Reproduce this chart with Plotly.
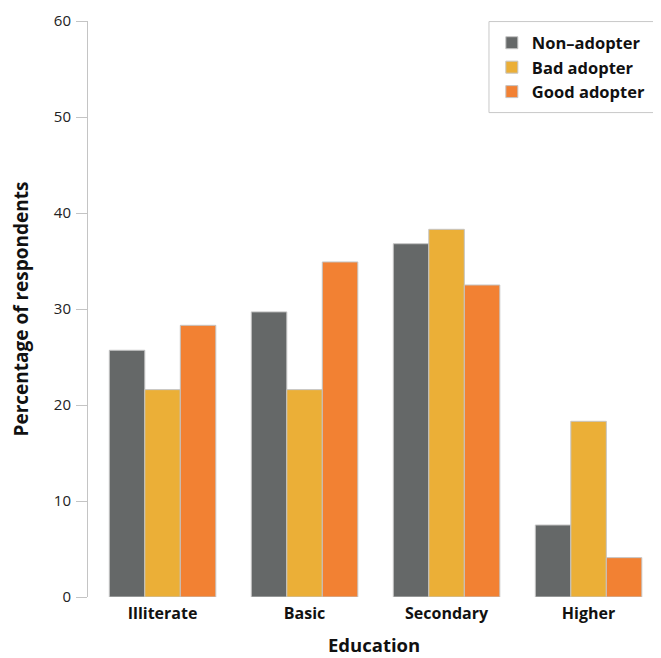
import plotly.graph_objects as go

categories = ["Illiterate", "Basic", "Secondary", "Higher"]
series_names = ["Non–adopter", "Bad adopter", "Good adopter"]
non_adopter = [25.7, 29.7, 36.8, 7.5]
bad_adopter = [21.6, 21.6, 38.3, 18.3]
good_adopter = [28.3, 34.9, 32.5, 4.1]
colors = ["#656868", "#EBAF37", "#F28133"]
y_ticks = [0, 10, 20, 30, 40, 50, 60]
x_title = "Education"
y_title = "Percentage of respondents"

FONT = "Open Sans"

fig = go.Figure()
for name, vals, col in zip(series_names, [non_adopter, bad_adopter, good_adopter], colors):
    fig.add_trace(go.Bar(
        x=categories, y=vals, name=name,
        marker=dict(color=col, line=dict(color="#c4c4c4", width=1)),
    ))

# legend frame (extends past the right edge, as in the reference)
fig.add_shape(
    type="rect", xref="paper", yref="paper",
    x0=0.701, x1=1.02, y0=0.841, y1=0.999,
    line=dict(color="#c8c8c8", width=1), fillcolor="rgba(0,0,0,0)", layer="above",
)

# x-axis title as annotation so it can sit low in the margin
fig.add_annotation(
    text=x_title, xref="paper", yref="paper", x=0.5, y=-0.0816,
    xanchor="center", yanchor="middle", showarrow=False, borderpad=0,
    font=dict(family=FONT, size=18.5, color="#111111", weight="bold"),
)

# page body has an 8px default margin; figure sized to fit the window
fig.update_layout(
    width=653, height=650,
    barmode="group", bargap=0.25, bargroupgap=0,
    plot_bgcolor="white", paper_bgcolor="white",
    margin=dict(l=80, r=1, t=13, b=61, autoexpand=False),
    font=dict(family=FONT, color="#222222", size=14),
    showlegend=True,
    legend=dict(
        x=0.706, xanchor="left", y=0.9922, yanchor="top",
        borderwidth=0, bgcolor="rgba(0,0,0,0)",
        font=dict(family=FONT, size=16.5, color="#111111", weight="bold"),
        itemclick=False, tracegroupgap=0,
    ),
    xaxis=dict(
        range=[-0.525, 3.503], showline=False, ticks="", showgrid=False,
        ticklabelstandoff=5,
        tickfont=dict(family=FONT, size=16, color="#111111", weight="bold"),
        automargin=False,
        fixedrange=True,
    ),
    yaxis=dict(
        range=[0, 60], tickvals=y_ticks, showline=True, linecolor="#c4c4c4", linewidth=1,
        ticks="outside", ticklen=11, tickcolor="#c4c4c4", tickwidth=1, showgrid=False,
        zeroline=False, ticklabelstandoff=2,
        tickfont=dict(family=FONT, size=15, color="#222222"),
        title=dict(text=y_title, font=dict(family=FONT, size=19, color="#111111", weight="bold"), standoff=22),
        automargin=False,
        fixedrange=True,
    ),
)

fig.write_html("out.html")
